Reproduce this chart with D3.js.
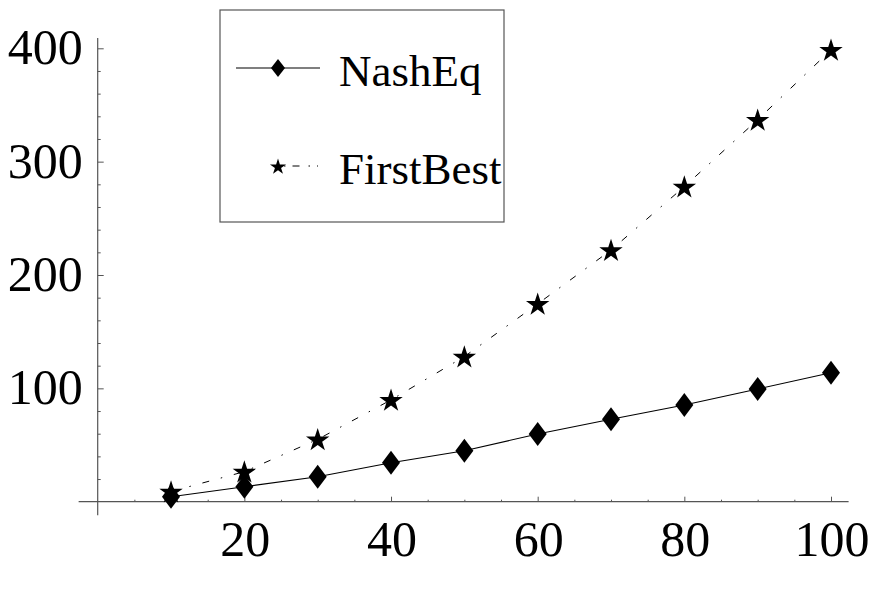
<!DOCTYPE html>
<html>
<head>
<meta charset="utf-8">
<script src="https://cdn.jsdelivr.net/npm/d3@7"></script>
</head>
<body style="margin:0">
<svg id="chart" width="876" height="595"></svg>
<script>
// Number of players on the x axis
const players = [10, 20, 30, 40, 50, 60, 70, 80, 90, 100];
// Values of the two outcomes
const nashEq    = [4.4, 13.2, 22, 34.4, 45, 59.7, 72.7, 85.3, 99.5, 113.8];
const firstBest = [9, 26.5, 55, 89.8, 128, 174.5, 222, 278, 337, 398.6];
// Axis ticks
const xTicks = [20, 40, 60, 80, 100];
const yTicks = [100, 200, 300, 400];
const xMinor = d3.range(5, 101, 5).filter(v => v % 20 !== 0);
const yMinor = d3.range(20, 401, 20).filter(v => v % 100 !== 0);
const seriesNames = ["NashEq", "FirstBest"];

const FONT = "Liberation Serif";
const svg = d3.select("#chart").style("display", "block");
const axisColor = "#555";

const x = d3.scaleLinear().domain([0, 100]).range([97.7, 831]);
const y = d3.scaleLinear().domain([0, 400]).range([501.7, 48.3]);

// Diamond marker path of given half-width / half-height
function diamond(w, h) {
  const p = d3.path();
  p.moveTo(0, -h); p.lineTo(w, 0); p.lineTo(0, h); p.lineTo(-w, 0); p.closePath();
  return p.toString();
}
const starPath = s => d3.symbol(d3.symbolStar, s)();

// ---- axes: minor and major ticks pointing inward ----
const gx = svg.append("g").attr("transform", `translate(0,${y(0)})`)
  .call(d3.axisBottom(x).tickValues(xMinor).tickSizeInner(-2).tickSizeOuter(0).tickFormat(""));
gx.select(".domain").remove();
const gx2 = svg.append("g").attr("transform", `translate(0,${y(0)})`)
  .call(d3.axisBottom(x).tickValues(xTicks).tickSizeInner(-5).tickSizeOuter(0).tickFormat(""));
gx2.select(".domain").remove();

const gy = svg.append("g").attr("transform", `translate(${x(0)},0)`)
  .call(d3.axisLeft(y).tickValues(yMinor).tickSizeInner(-3).tickSizeOuter(0).tickFormat(""));
gy.select(".domain").remove();
const gy2 = svg.append("g").attr("transform", `translate(${x(0)},0)`)
  .call(d3.axisLeft(y).tickValues(yTicks).tickSizeInner(-6).tickSizeOuter(0).tickFormat(""));
gy2.select(".domain").remove();

svg.selectAll(".tick line").attr("stroke", axisColor);

// tick labels
svg.append("g").selectAll("text").data(xTicks).join("text")
  .attr("x", d => x(d) + 1).attr("y", y(0) + 54)
  .attr("text-anchor", "middle")
  .attr("font-family", FONT).attr("font-size", 50).attr("fill", "#000")
  .text(d => d);
svg.append("g").selectAll("text").data(yTicks).join("text")
  .attr("x", x(0) - 15).attr("y", d => y(d) + 16)
  .attr("text-anchor", "end")
  .attr("font-family", FONT).attr("font-size", 50).attr("fill", "#000")
  .text(d => d);

// axis lines extending slightly beyond the data range
svg.append("line")
  .attr("x1", x(-2.6)).attr("x2", x(102.4)).attr("y1", y(0)).attr("y2", y(0))
  .attr("stroke", axisColor).attr("stroke-width", 1.2);
svg.append("line")
  .attr("x1", x(0)).attr("x2", x(0)).attr("y1", y(409)).attr("y2", y(-12))
  .attr("stroke", axisColor).attr("stroke-width", 1.2);

// ---- series ----
const line = d3.line().x(d => x(d[0])).y(d => y(d[1]));
const fbData = players.map((p, i) => [p, firstBest[i]]);
const neData = players.map((p, i) => [p, nashEq[i]]);

svg.append("path").datum(fbData).attr("d", line)
  .attr("fill", "none").attr("stroke", "#000").attr("stroke-width", 1)
  .attr("stroke-dasharray", "7,12,1.5,12");
svg.append("path").datum(neData).attr("d", line)
  .attr("fill", "none").attr("stroke", "#000").attr("stroke-width", 1.1);

svg.append("g").selectAll("path").data(neData).join("path")
  .attr("d", diamond(9, 12))
  .attr("transform", d => `translate(${x(d[0])},${y(d[1])})`)
  .attr("fill", "#000");
svg.append("g").selectAll("path").data(fbData).join("path")
  .attr("d", starPath(170))
  .attr("transform", d => `translate(${x(d[0])},${y(d[1]) + 1})`)
  .attr("fill", "#000");

// ---- legend ----
const lg = svg.append("g");
lg.append("rect").attr("x", 220).attr("y", 10).attr("width", 284).attr("height", 212)
  .attr("fill", "#fff").attr("stroke", axisColor).attr("stroke-width", 1.2);
lg.append("line").attr("x1", 236).attr("x2", 320).attr("y1", 68).attr("y2", 68)
  .attr("stroke", "#000").attr("stroke-width", 1.1);
lg.append("path").attr("d", diamond(7, 9)).attr("transform", "translate(278,68)").attr("fill", "#000");
lg.append("line").attr("x1", 284).attr("x2", 318).attr("y1", 166).attr("y2", 166)
  .attr("stroke", "#000").attr("stroke-width", 1).attr("stroke-dasharray", "1.5,7,7,9");
lg.append("path").attr("d", starPath(80)).attr("transform", "translate(278,167)").attr("fill", "#000");
lg.selectAll("text").data(seriesNames).join("text")
  .attr("x", 339).attr("y", (d, i) => 86 + i * 98)
  .attr("font-family", FONT)
  .attr("font-size", 45)
  .attr("fill", "#000")
  .text(d => d);
</script>
</body>
</html>
